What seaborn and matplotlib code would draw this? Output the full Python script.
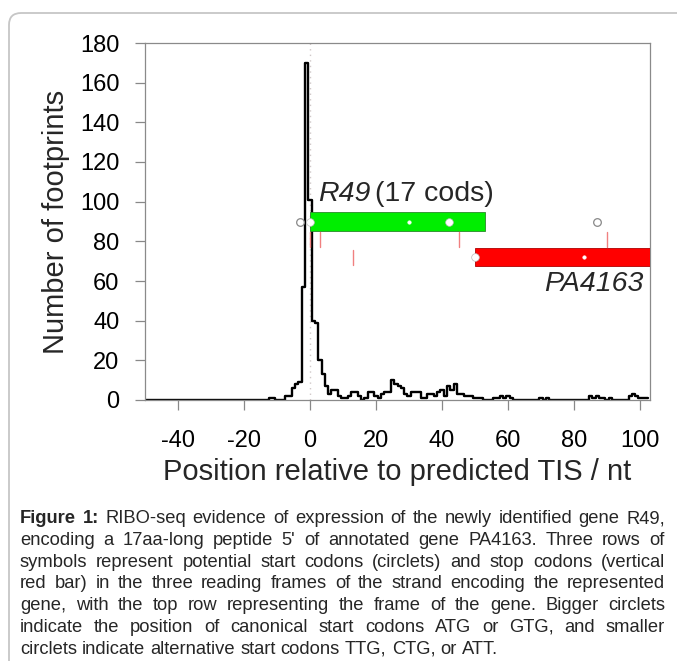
import numpy as np
import pandas as pd
import matplotlib
matplotlib.use("Agg")
import matplotlib.pyplot as plt
from matplotlib import font_manager
from matplotlib.patches import FancyBboxPatch, Rectangle
import seaborn as sns

# ----------------------------------------------------------------------
# Data
# ----------------------------------------------------------------------
positions = list(range(-50, 103))
footprints = [
    0, 0, 0, 0, 0, 0, 0, 0, 0, 0,          # -50 .. -41
    0, 0, 0, 0, 0, 0, 0, 0, 0, 0,          # -40 .. -31
    0, 0, 0, 0, 0, 0, 0, 0, 0, 0,          # -30 .. -21
    0, 0, 0, 0, 0, 0, 0, 0, 1, 1,          # -20 .. -11
    0, 0, 0, 2, 2, 6, 8, 9, 57, 170,       # -10 .. -1
    101, 40, 39, 20, 13, 7, 3, 5, 5, 2,    # 0 .. 9
    1, 1, 2, 4, 4, 2, 0, 1, 4, 4,          # 10 .. 19
    2, 1, 3, 4, 4, 10, 8, 7, 6, 3,         # 20 .. 29
    2, 4, 4, 4, 1, 1, 3, 3, 2, 4,          # 30 .. 39
    5, 2, 7, 5, 8, 3, 3, 2, 2, 2,          # 40 .. 49
    1, 1, 1, 0, 0, 0, 1, 1, 2, 1,          # 50 .. 59
    2, 1, 0, 0, 0, 0, 0, 0, 0, 0,          # 60 .. 69
    1, 0, 1, 0, 0, 0, 0, 0, 0, 0,          # 70 .. 79
    0, 0, 0, 0, 0, 2, 1, 2, 1, 1,          # 80 .. 89
    0, 1, 0, 0, 0, 0, 0, 2, 3, 2,          # 90 .. 99
    1, 1, 1,                               # 100 .. 102
]

# ORFs (start, end, row height)
orf_names = ["R49", "PA4163"]
orf_start = [0, 50]
orf_end = [53, 110]
orf_row = [90, 72]
orf_colors = ["#00ee00", "#ff0000"]

# start codons: outside ORFs (grey open), inside (white), small = alternative
start_pos = [-3, 0, 30, 42, 87, 50, 83]
start_row = [90, 90, 90, 90, 90, 72, 72]
start_kind = ["out", "big", "small", "big", "out", "big", "small"]

# stop codons
stop_pos = [0, 3, 45, 90, 13]
stop_row = [81, 81, 81, 81, 72]

x_ticks = [-40, -20, 0, 20, 40, 60, 80, 100]
y_ticks = [0, 20, 40, 60, 80, 100, 120, 140, 160, 180]

caption = [
    "Figure 1: RIBO-seq evidence of expression of the newly identified gene R49,",
    "encoding a 17aa-long peptide 5' of annotated gene PA4163. Three rows of",
    "symbols represent potential start codons (circlets) and stop codons (vertical",
    "red bar) in the three reading frames of the strand encoding the represented",
    "gene, with the top row representing the frame of the gene. Bigger circlets",
    "indicate the position of canonical start codons ATG or GTG, and smaller",
    "circlets indicate alternative start codons TTG, CTG, or ATT.",
]

# ----------------------------------------------------------------------
# Style
# ----------------------------------------------------------------------
sns.set_theme(style="ticks")
plt.rcParams["font.family"] = ["Liberation Sans", "DejaVu Sans"]
plt.rcParams["axes.unicode_minus"] = False
installed = {f.name for f in font_manager.fontManager.ttflist}
cap_font = ["Liberation Sans Narrow", "Liberation Sans"] if "Liberation Sans Narrow" in installed else ["Liberation Sans"]

W, H = 677, 661
fig = plt.figure(figsize=(W / 100, H / 100), dpi=100)
fig.patch.set_facecolor("white")

# outer rounded frame
fig.add_artist(FancyBboxPatch((9 / W, -0.2), 1.2, 1.2 - 13 / H,
                              boxstyle="round,pad=0,rounding_size=0.018",
                              transform=fig.transFigure, fill=False,
                              edgecolor="#c6c6c6", linewidth=1.3))

ax = fig.add_axes([145 / W, 1 - 400 / H, (650 - 145) / W, (400 - 43) / H])

df = pd.DataFrame({"pos": positions, "n": footprints})
sns.histplot(data=df, x="pos", weights="n", discrete=True, element="step",
             fill=False, color="black", linewidth=1.7, ax=ax)

ax.axvline(0, color="#d0c8c8", linestyle=(0, (1, 3)), linewidth=1.0, zorder=0)

# ORF bars
for name, s, e, r, c in zip(orf_names, orf_start, orf_end, orf_row, orf_colors):
    edge = "#2a8a2a" if c == "#00ee00" else "#b00000"
    ax.add_patch(Rectangle((s, r - 4.6), e - s, 9.2, facecolor=c,
                           edgecolor=edge, linewidth=0.6, zorder=3))

# stop codons
for p, r in zip(stop_pos, stop_row):
    ax.plot([p, p], [r - 3.7, r + 3.7], color="#f08080", linewidth=1.0, zorder=4)

# start codons
for p, r, k in zip(start_pos, start_row, start_kind):
    if k == "out":
        ax.plot(p, r, "o", ms=5.5, mfc="white", mec="#888888", mew=0.9, zorder=5)
    elif k == "big":
        ax.plot(p, r, "o", ms=5.5, mfc="white", mec="#bbbbbb", mew=0.5, zorder=5)
    else:
        ax.plot(p, r, "o", ms=2.6, mfc="white", mec="white", mew=0.3, zorder=5)

ax.text(2.5, 100.5, "R49", fontsize=20.5, fontstyle="italic", ha="left", va="baseline", zorder=6)
ax.text(19.8, 100.5, "(17 cods)", fontsize=20.5, ha="left", va="baseline", zorder=6)
ax.text(101, 55, "PA4163", fontsize=20.5, fontstyle="italic", ha="right", va="baseline", zorder=6)

ax.set_xlim(-50, 103)
ax.set_ylim(0, 180)
ax.set_xticks(x_ticks)
ax.set_yticks(y_ticks)
ax.tick_params(axis="both", colors="#888888", labelcolor="black", labelsize=17,
               length=7.5, width=0.9, direction="out")
ax.tick_params(axis="x", pad=14)
ax.tick_params(axis="y", pad=11)
for sp in ax.spines.values():
    sp.set_visible(True)
    sp.set_color("#8a8a8a")
    sp.set_linewidth(0.9)

ax.set_xlabel("Position relative to predicted TIS / nt", fontsize=21)
ax.set_ylabel("Number of footprints", fontsize=21)
ax.xaxis.set_label_coords(0.5, (400 - 458) / 357)
ax.yaxis.set_label_coords((70 - 145) / 505, 0.5)

# ----------------------------------------------------------------------
# Caption, justified line by line
# ----------------------------------------------------------------------
renderer = fig.canvas.get_renderer()
left_px, right_px = 20, 665
cap_size = 13.2
for i, line in enumerate(caption):
    y = 1 - (523 + 21.8 * i) / H
    words = line.split()
    texts = []
    for j, w in enumerate(words):
        bold = (i == 0 and j < 2)
        texts.append(fig.text(0, y, w, fontsize=cap_size, family=cap_font,
                              fontweight="bold" if bold else "normal",
                              ha="left", va="baseline"))
    widths = [t.get_window_extent(renderer).width for t in texts]
    if i == len(caption) - 1:
        gap = cap_size * 100 / 72 * 0.278
    else:
        gap = (right_px - left_px - sum(widths)) / (len(words) - 1)
    x = left_px
    for t, wd in zip(texts, widths):
        t.set_x(x / W)
        x += wd + gap

fig.savefig("out.png", dpi=100)
